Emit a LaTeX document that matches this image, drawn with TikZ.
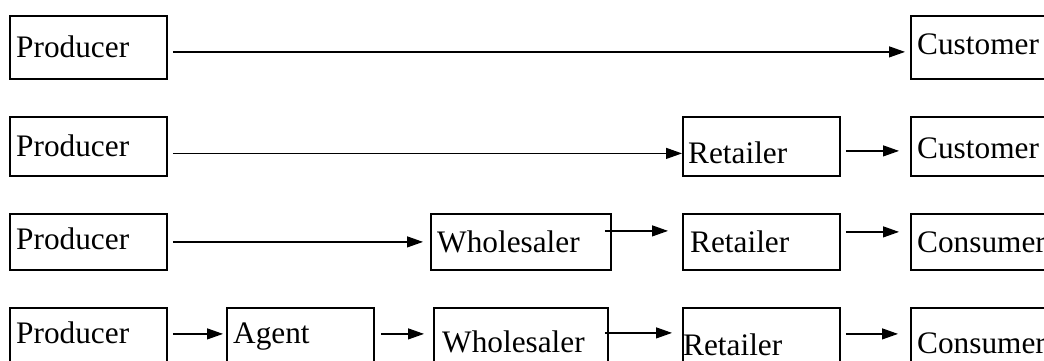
\documentclass[tikz,border=0pt]{standalone}
\usepackage{fontspec}
\setmainfont{Liberation Serif}
\usetikzlibrary{arrows.meta}
\begin{document}
\begin{tikzpicture}[x=1pt,y=-1pt,
  box/.style={draw, line width=1.8pt, inner sep=0pt, anchor=north west},
  lbl/.style={anchor=base west, inner sep=0pt, font=\fontsize{31.3}{36}\selectfont},
  arr/.style={line width=1.2pt, -{Triangle[length=16pt,width=11pt]}}]
\useasboundingbox (0,0) rectangle (1044,360);

% row 1: producer -> customer
\node[box, minimum width=157pt, minimum height=63pt] (r1p) at (9,15) {};
\node[box, minimum width=150pt, minimum height=63pt] (r1c) at (910,15) {};
\node[lbl] (t1p) at (16,57) {Producer};
\node[lbl] (t1c) at (917,54) {Customer};
\draw[arr] ([xshift=5pt,yshift=-4.5pt]r1p.east) -- ([xshift=-5pt,yshift=-4.5pt]r1c.west);

% row 2: producer -> retailer -> customer
\node[box, minimum width=157pt, minimum height=59pt] (r2p) at (9,116) {};
\node[box, minimum width=157pt, minimum height=59pt] (r2r) at (682,116) {};
\node[box, minimum width=150pt, minimum height=59pt] (r2c) at (910,116) {};
\node[lbl] (t2p) at (16,156) {Producer};
\node[lbl] (t2r) at (688,163) {Retailer};
\node[lbl] (t2c) at (917,158) {Customer};
\draw[arr] ([xshift=5pt,yshift=-7pt]r2p.east) -- ([yshift=-7pt]r2r.west);
\draw[arr] ([xshift=5pt,yshift=-4.5pt]r2r.east) -- ([xshift=-11pt,yshift=-4.5pt]r2c.west);

% row 3: producer -> wholesaler -> retailer -> consumer
\node[box, minimum width=157pt, minimum height=56pt] (r3p) at (9,213) {};
\node[box, minimum width=180pt, minimum height=56pt] (r3w) at (430,213) {};
\node[box, minimum width=157pt, minimum height=56pt] (r3r) at (682,213) {};
\node[box, minimum width=150pt, minimum height=56pt] (r3c) at (910,213) {};
\node[lbl] (t3p) at (16,249) {Producer};
\node[lbl] (t3w) at (437,252) {Wholesaler};
\node[lbl] (t3r) at (690,252) {Retailer};
\node[lbl] (t3c) at (917,252) {Consumer};
\draw[arr] ([xshift=5pt]r3p.east) -- ([xshift=-7pt]r3w.west);
\draw[arr] ([xshift=-7pt,yshift=11pt]r3w.east) -- ([xshift=-14pt,yshift=11pt]r3r.west);
\draw[arr] ([xshift=5pt,yshift=10pt]r3r.east) -- ([xshift=-11pt,yshift=10pt]r3c.west);

% row 4: producer -> agent -> wholesaler -> retailer -> consumer
\node[box, minimum width=157pt, minimum height=63pt] (r4p) at (9,307) {};
\node[box, minimum width=147pt, minimum height=63pt] (r4a) at (226,307) {};
\node[box, minimum width=174pt, minimum height=63pt] (r4w) at (433,307) {};
\node[box, minimum width=157pt, minimum height=63pt] (r4r) at (682,307) {};
\node[box, minimum width=150pt, minimum height=63pt] (r4c) at (910,307) {};
\node[lbl] (t4p) at (16,343) {Producer};
\node[lbl] (t4a) at (233,343) {Agent};
\node[lbl] (t4w) at (442,352) {Wholesaler};
\node[lbl] (t4r) at (683,355) {Retailer};
\node[lbl] (t4c) at (917,353) {Consumer};
\draw[arr] ([xshift=5pt,yshift=5.5pt]r4p.east) -- ([xshift=-3pt,yshift=5.5pt]r4a.west);
\draw[arr] ([xshift=6pt,yshift=5.5pt]r4a.east) -- ([xshift=-9pt,yshift=5.5pt]r4w.west);
\draw[arr] ([xshift=-4pt,yshift=6.5pt]r4w.east) -- ([xshift=-10pt,yshift=6.5pt]r4r.west);
\draw[arr] ([xshift=5pt,yshift=5.5pt]r4r.east) -- ([xshift=-12pt,yshift=5.5pt]r4c.west);
\end{tikzpicture}
\end{document}
